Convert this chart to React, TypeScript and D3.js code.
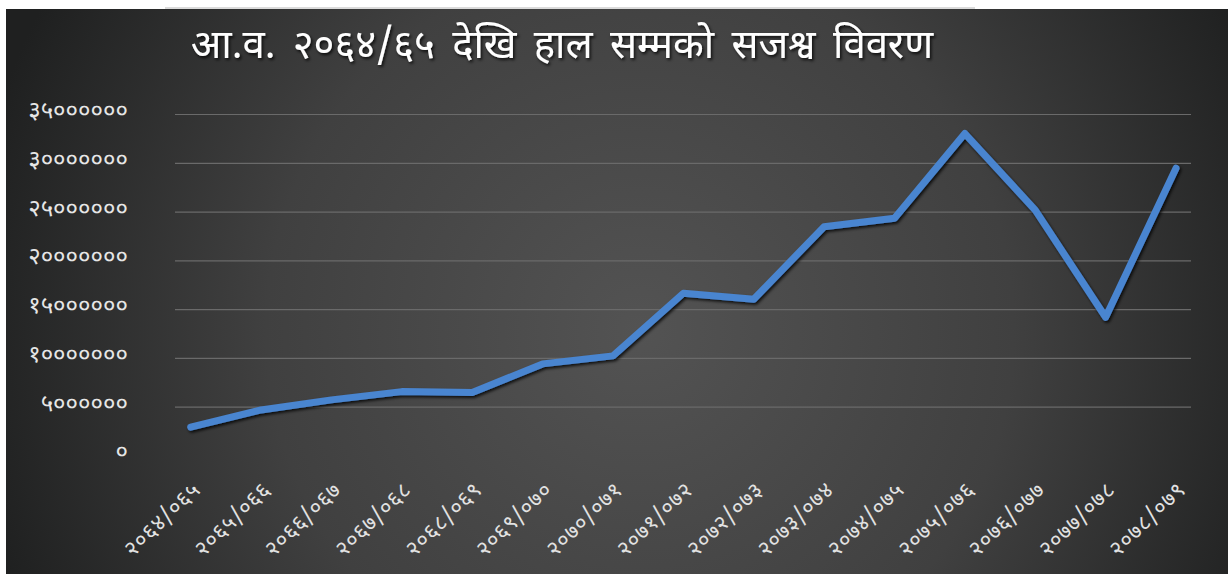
import React, { useEffect, useRef } from 'react';
import * as d3 from 'd3';

// fiscal years, Nepali digits as in the source chart
const years = [
  '२०६४/०६५', '२०६५/०६६', '२०६६/०६७', '२०६७/०६८', '२०६८/०६९',
  '२०६९/०७०', '२०७०/०७१', '२०७१/०७२', '२०७२/०७३', '२०७३/०७४',
  '२०७४/०७५', '२०७५/०७६', '२०७६/०७७', '२०७७/०७८', '२०७८/०७९',
];
const revenue = [
  2950000, 4720000, 5750000, 6600000, 6500000,
  9440000, 10260000, 16680000, 16070000, 23500000,
  24370000, 33050000, 25200000, 14220000, 29490000,
];
const yTicks = [0, 5000000, 10000000, 15000000, 20000000, 25000000, 30000000, 35000000];
const title = 'आ.व. २०६४/६५ देखि हाल सम्मको सजश्व विवरण';

const nepaliDigits = '०१२३४५६७८९';
const toNepali = (n: number) => String(n).replace(/[0-9]/g, c => nepaliDigits[+c]);

const W = 1230;
const H = 580;
const FONT = '"Noto Sans Devanagari", "Noto Sans", "DejaVu Sans", sans-serif';

const App: React.FC = () => {
  const svgRef = useRef<SVGSVGElement>(null);

  useEffect(() => {
    const svg = d3.select(svgRef.current);
    svg.selectAll('*').remove();
    svg.attr('width', W).attr('height', H);

    const defs = svg.append('defs');
    const grad = defs.append('radialGradient')
      .attr('id', 'bg')
      .attr('gradientUnits', 'userSpaceOnUse')
      .attr('cx', 640).attr('cy', 330).attr('r', 680);
    grad.append('stop').attr('offset', '0%').attr('stop-color', '#535353');
    grad.append('stop').attr('offset', '55%').attr('stop-color', '#404040');
    grad.append('stop').attr('offset', '100%').attr('stop-color', '#1f2020');

    const shadow = defs.append('filter').attr('id', 'shadow')
      .attr('x', '-5%').attr('y', '-20%').attr('width', '110%').attr('height', '140%');
    shadow.append('feDropShadow')
      .attr('dx', 1.5).attr('dy', 2).attr('stdDeviation', 1.5)
      .attr('flood-color', '#000').attr('flood-opacity', 0.8);

    svg.append('rect').attr('width', W).attr('height', H).attr('fill', '#fff');
    svg.append('line')
      .attr('x1', 165).attr('x2', 975).attr('y1', 8).attr('y2', 8)
      .attr('stroke', '#cfcfcf').attr('stroke-width', 1.5);
    svg.append('rect')
      .attr('x', 6).attr('y', 9).attr('width', 1222).attr('height', 565)
      .attr('fill', 'url(#bg)');

    // scales
    const x = d3.scalePoint<string>().domain(years).range([190.7, 1176]);
    const y = d3.scaleLinear().domain([0, 35000000]).range([456, 114.5]);

    // gridlines
    svg.append('g')
      .selectAll('line')
      .data(yTicks.filter(t => t > 0))
      .enter()
      .append('line')
      .attr('x1', 175).attr('x2', 1191)
      .attr('y1', d => y(d)).attr('y2', d => y(d))
      .attr('stroke', '#6a6a6a').attr('stroke-width', 1.2);

    // y labels
    svg.append('g')
      .selectAll('text')
      .data(yTicks)
      .enter()
      .append('text')
      .attr('x', 128)
      .attr('y', d => y(d) - 3)
      .attr('text-anchor', 'end')
      .attr('dominant-baseline', 'middle')
      .attr('font-family', FONT)
      .attr('font-size', 24)
      .attr('fill', '#e6e6e6')
      .text(d => toNepali(d));

    // x labels, rotated
    svg.append('g')
      .selectAll('text')
      .data(years)
      .enter()
      .append('text')
      .attr('transform', d => `translate(${(x(d) as number) + 7}, 487) rotate(-44)`)
      .attr('text-anchor', 'end')
      .attr('dominant-baseline', 'middle')
      .attr('font-family', FONT)
      .attr('font-size', 22)
      .attr('letter-spacing', 0.8)
      .attr('fill', '#e2e2e2')
      .text(d => d);

    // line
    const line = d3.line<number>()
      .x((_, i) => x(years[i]) as number)
      .y(d => y(d));

    svg.append('path')
      .datum(revenue)
      .attr('d', line)
      .attr('fill', 'none')
      .attr('stroke', '#4a85d0')
      .attr('stroke-width', 7)
      .attr('stroke-linejoin', 'round')
      .attr('stroke-linecap', 'round')
      .attr('filter', 'url(#shadow)');

    // title
    svg.append('text')
      .attr('x', 562)
      .attr('y', 47)
      .attr('text-anchor', 'middle')
      .attr('dominant-baseline', 'middle')
      .attr('font-family', FONT)
      .attr('font-size', 40)
      .attr('word-spacing', 7)
      .attr('fill', '#ffffff')
      .attr('filter', 'url(#shadow)')
      .text(title);
  }, []);

  return (
    <div style={{ position: 'fixed', left: 0, top: 0 }}>
      <svg ref={svgRef}></svg>
    </div>
  );
};

export default App;
